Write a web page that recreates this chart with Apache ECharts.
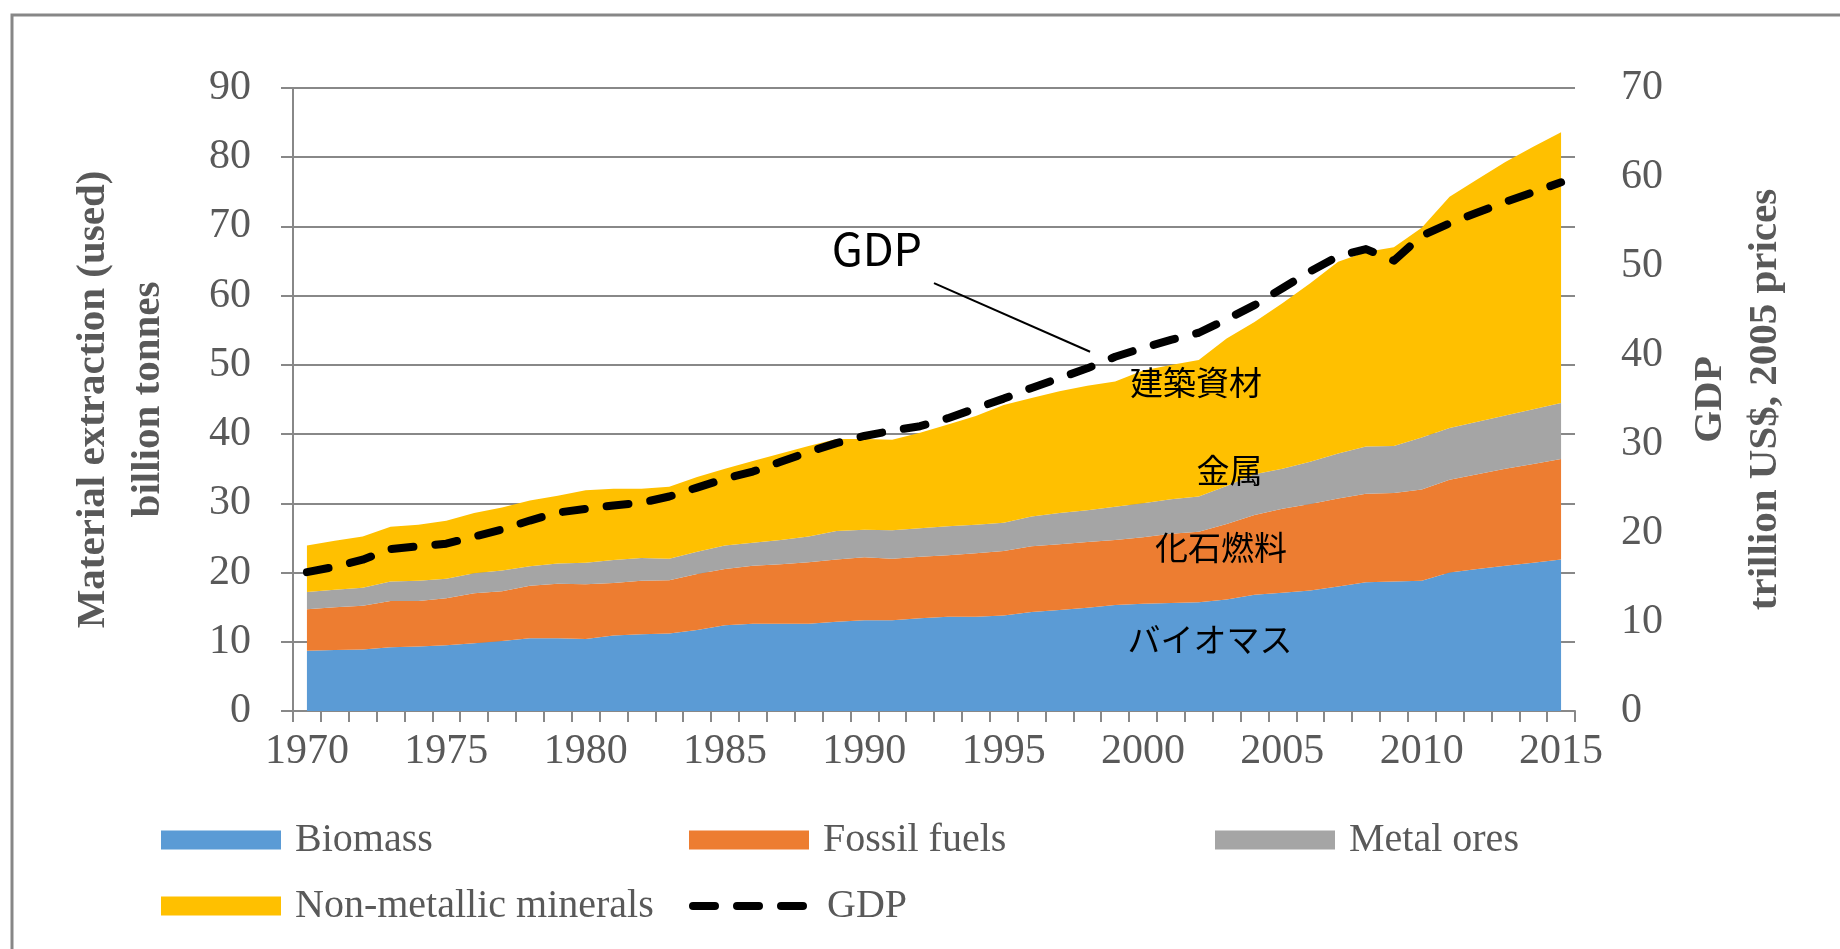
<!DOCTYPE html>
<html>
<head>
<meta charset="utf-8">
<script src="https://cdn.jsdelivr.net/npm/echarts@6/dist/echarts.min.js"></script>
<style>
html, body { margin: 0; padding: 0; background: #ffffff; }
#chart { width: 1840px; height: 949px; }
</style>
</head>
<body>
<div id="chart"></div>
<script>
// ---- data (billion tonnes; GDP in trillion US$, 2005 prices) ----
const years = ['1970','1971','1972','1973','1974','1975','1976','1977','1978','1979',
               '1980','1981','1982','1983','1984','1985','1986','1987','1988','1989',
               '1990','1991','1992','1993','1994','1995','1996','1997','1998','1999',
               '2000','2001','2002','2003','2004','2005','2006','2007','2008','2009',
               '2010','2011','2012','2013','2014','2015'];
const biomass = [8.7,8.8,8.9,9.2,9.3,9.5,9.8,10.1,10.5,10.5,
                 10.4,10.9,11.1,11.2,11.7,12.4,12.6,12.6,12.6,12.9,
                 13.1,13.1,13.4,13.6,13.6,13.8,14.3,14.6,14.9,15.3,
                 15.5,15.6,15.7,16.1,16.8,17.1,17.4,18.0,18.6,18.7,
                 18.8,20.0,20.5,21.0,21.4,21.9];
const fossilFuels = [6.0,6.2,6.3,6.7,6.6,6.8,7.2,7.2,7.6,7.9,
                     7.9,7.6,7.7,7.7,8.1,8.1,8.4,8.6,8.9,9.0,
                     9.1,8.9,8.9,8.9,9.2,9.3,9.5,9.5,9.5,9.4,
                     9.6,10.0,10.2,10.9,11.5,12.1,12.5,12.7,12.8,12.8,
                     13.2,13.4,13.7,14.0,14.3,14.5];
const metalOres = [2.5,2.5,2.6,2.8,2.9,2.8,2.9,3.0,2.8,2.9,
                   3.1,3.3,3.3,3.1,3.2,3.4,3.3,3.5,3.7,4.1,
                   4.0,4.1,4.1,4.2,4.1,4.1,4.3,4.5,4.6,4.8,
                   4.9,5.0,5.1,5.5,5.9,5.8,6.1,6.5,6.8,6.8,
                   7.5,7.5,7.6,7.7,7.9,8.1];
const nonMetallicMinerals = [6.7,7.1,7.4,7.9,8.1,8.4,8.7,9.1,9.5,9.8,
                             10.5,10.3,10.0,10.4,10.8,11.1,11.8,12.5,13.1,13.3,
                             13.1,13.1,13.8,14.7,15.7,17.0,17.1,17.6,18.0,18.1,
                             19.2,19.4,19.7,21.3,22.0,23.9,25.8,27.7,28.1,28.7,
                             30.3,33.4,35.0,36.6,37.9,39.1];
const gdp = [15.6,16.2,17.0,18.2,18.5,18.8,19.6,20.4,21.4,22.3,
             22.7,23.1,23.4,24.1,25.1,26.1,26.9,28.0,29.1,30.1,
             30.9,31.5,32.0,32.9,34.0,35.1,36.3,37.4,38.5,39.8,
             40.8,41.7,42.5,44.0,45.6,47.5,49.4,51.1,51.9,50.6,
             53.4,54.8,56.0,57.2,58.3,59.4];
const seriesNames = ['Biomass', 'Fossil fuels', 'Metal ores', 'Non-metallic minerals', 'GDP'];
const areaLabelTexts = ['建築資材', '金属', '化石燃料', 'バイオマス'];
const gdpLabelText = 'GDP';
const leftAxisTitle = 'Material extraction (used)\nbillion tonnes';
const rightAxisTitle = 'GDP\ntrillion US$, 2005 prices';

// ---- styles ----
const SERIF = "'Liberation Serif', 'Times New Roman', serif";
const CJK = "'Noto Sans CJK JP', 'Noto Sans', sans-serif";
const TXT = '#595959';
const GRID = '#888888';
const colors = ['#5B9BD5', '#ED7D31', '#A5A5A5', '#FFC000'];

const chart = echarts.init(document.getElementById('chart'), null, { renderer: 'canvas' });

function areaSeries(name, data, color) {
  return {
    name: name, type: 'line', stack: 'materials', data: data,
    symbol: 'none', showSymbol: false,
    lineStyle: { width: 0, color: color },
    itemStyle: { color: color },
    areaStyle: { color: color, opacity: 1 },
    emphasis: { disabled: true },
    z: 2
  };
}

function legendItem(name, left, top, extra) {
  return Object.assign({
    data: [name], left: left, top: top, padding: 0,
    itemWidth: 120, itemHeight: 19, selectedMode: false,
    icon: 'rect',
    textStyle: { fontFamily: SERIF, fontSize: 40, color: TXT, lineHeight: 40, padding: [0, 0, 8, 9] }
  }, extra || {});
}

const option = {
  animation: false,
  backgroundColor: '#ffffff',
  grid: { left: 293, right: 265, top: 88, bottom: 238, containLabel: false },
  xAxis: {
    type: 'category', data: years, boundaryGap: true,
    axisLine: { lineStyle: { color: GRID, width: 2 } },
    axisTick: { show: true, interval: 0, length: 11, lineStyle: { color: GRID, width: 2 } },
    axisLabel: { interval: 4, margin: 20, fontFamily: SERIF, fontSize: 42, color: TXT }
  },
  yAxis: [
    {
      type: 'value', min: 0, max: 90, interval: 10, position: 'left',
      name: leftAxisTitle, nameLocation: 'middle', nameGap: 117,
      nameTextStyle: { fontFamily: SERIF, fontWeight: 'bold', fontSize: 41, color: TXT, lineHeight: 55 },
      axisLine: { show: true, lineStyle: { color: GRID, width: 2 } },
      axisTick: { show: true, length: 12, lineStyle: { color: GRID, width: 2 } },
      splitLine: { show: true, lineStyle: { color: GRID, width: 2 } },
      axisLabel: { margin: 42, fontFamily: SERIF, fontSize: 42, color: TXT }
    },
    {
      type: 'value', min: 0, max: 70, interval: 10, position: 'right', alignTicks: false,
      name: rightAxisTitle, nameLocation: 'middle', nameGap: 108,
      nameTextStyle: { fontFamily: SERIF, fontWeight: 'bold', fontSize: 41, color: TXT, lineHeight: 55 },
      axisLine: { show: false }, axisTick: { show: false }, splitLine: { show: false },
      axisLabel: { margin: 46, fontFamily: SERIF, fontSize: 42, color: TXT }
    }
  ],
  legend: [
    legendItem(seriesNames[0], 161, 816),
    legendItem(seriesNames[1], 689, 816),
    legendItem(seriesNames[2], 1215, 816),
    legendItem(seriesNames[3], 161, 882),
    legendItem(seriesNames[4], 689, 882, {
      icon: null,
      itemStyle: { color: 'rgba(0,0,0,0)', borderWidth: 0, opacity: 0 },
      lineStyle: { color: '#000000', width: 8, type: [22, 22], cap: 'round' }
    })
  ],
  series: [
    areaSeries(seriesNames[0], biomass, colors[0]),
    areaSeries(seriesNames[1], fossilFuels, colors[1]),
    areaSeries(seriesNames[2], metalOres, colors[2]),
    areaSeries(seriesNames[3], nonMetallicMinerals, colors[3]),
    {
      name: seriesNames[4], type: 'line', yAxisIndex: 1, data: gdp,
      symbol: 'none', showSymbol: false,
      itemStyle: { color: '#000000' },
      lineStyle: { color: '#000000', width: 8, type: [22, 22], cap: 'round', join: 'round' },
      emphasis: { disabled: true },
      z: 5
    }
  ]
};
chart.setOption(option);

// ---- annotations anchored to the axes (year may be fractional) ----
function toPx(year, value) {
  const i = year - 1970;
  const i0 = Math.floor(i);
  const a = chart.convertToPixel({ xAxisIndex: 0, yAxisIndex: 0 }, [i0, value]);
  const b = chart.convertToPixel({ xAxisIndex: 0, yAxisIndex: 0 }, [i0 + 1, value]);
  return [a[0] + (b[0] - a[0]) * (i - i0), a[1]];
}
function label(text, year, value, size) {
  const p = toPx(year, value);
  return {
    type: 'text', x: p[0], y: p[1], z: 10, silent: true,
    style: { text: text, fill: '#000000', fontFamily: CJK, fontSize: size,
             align: 'center', verticalAlign: 'middle' }
  };
}
const l1 = toPx(1992.5, 61.8);
const l2 = toPx(1998.1, 51.9);
chart.setOption({
  graphic: [
    { type: 'rect', silent: true, z: 0,
      shape: { x: 12, y: 15, width: 1900, height: 1000 },
      style: { fill: 'none', stroke: '#878787', lineWidth: 3 } },
    label(areaLabelTexts[0], 2001.9, 47.4, 33),
    label(areaLabelTexts[1], 2003.1, 34.8, 33),
    label(areaLabelTexts[2], 2002.8, 23.6, 33),
    label(areaLabelTexts[3], 2002.4, 10.3, 33),
    label(gdpLabelText, 1990.45, 66.8, 45),
    { type: 'line', silent: true, z: 10,
      shape: { x1: l1[0], y1: l1[1], x2: l2[0], y2: l2[1] },
      style: { stroke: '#000000', lineWidth: 2 } }
  ]
});
</script>
</body>
</html>
